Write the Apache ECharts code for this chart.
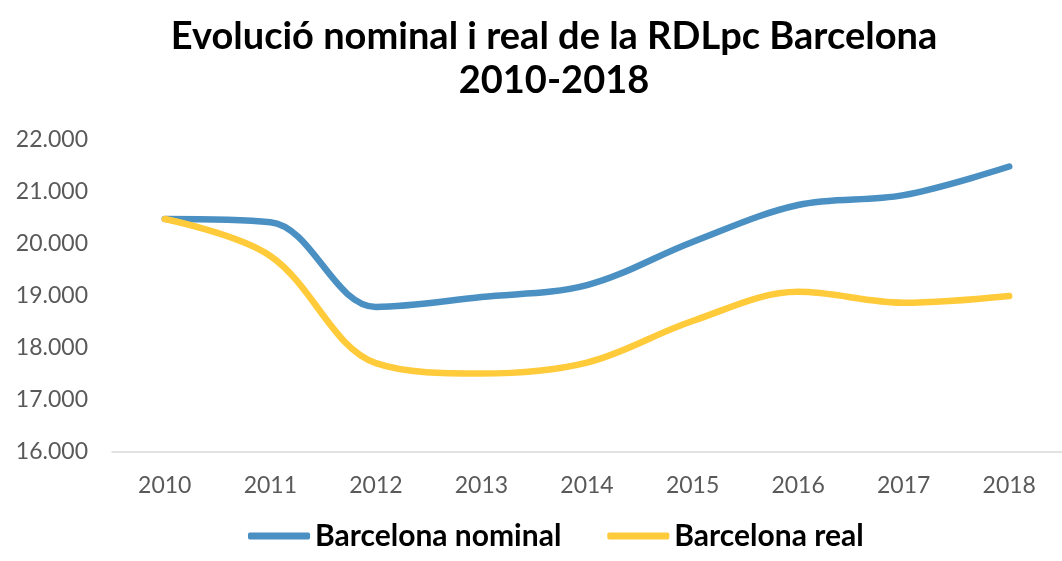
<!DOCTYPE html>
<html>
<head>
<meta charset="utf-8">
<script src="https://cdn.jsdelivr.net/npm/echarts@6/dist/echarts.min.js"></script>
<style>
html,body{margin:0;padding:0;background:#fff;}
#chartmain{width:1062px;height:561px;}
</style>
</head>
<body>
<div id="chartmain"></div>
<script>
var years=['2010','2011','2012','2013','2014','2015','2016','2017','2018'];
var nominal=[20480,20420,18790,18980,19210,20040,20750,20940,21490];
var real=[20480,19770,17710,17510,17720,18520,19080,18870,19000];

function formatThousands(value) {
	return String(value).replace(/\B(?=(\d{3})+(?!\d))/g,'.');
}

var myChart=echarts.init(document.getElementById("chartmain"));
var option={
	animation:false,
	title:{
		text:'Evolució nominal i real de la RDLpc Barcelona\n2010-2018',
		left:549,top:10,textAlign:'center',
		textStyle:{
			fontFamily:'Lato',
			fontWeight:'bold',fontSize:38,lineHeight:44,color:'#000'
		}
	},
	legend:{
		bottom:5,left:243,
		itemWidth:62,itemHeight:7,itemGap:46,
		icon:'roundRect',
		textStyle:{fontFamily:'Lato',fontWeight:'bold',fontSize:30,color:'#000'},
		data:['Barcelona nominal','Barcelona real']
	},
	grid:{left:112,right:-11,top:140,bottom:109},
	xAxis:{
		type:'category',
		boundaryGap:true,
		data:years,
		axisLine:{lineStyle:{color:'#d9d9d9',width:1.5}},
		axisTick:{show:false},
		axisLabel:{color:'#595959',fontSize:23,fontFamily:'Lato',margin:22}
	},
	yAxis:{
		type:'value',
		min:16000,max:22000,interval:1000,
		splitLine:{show:false},
		axisLine:{show:false},
		axisTick:{show:false},
		axisLabel:{
			color:'#595959',fontSize:23,fontFamily:'Lato',margin:24,
			formatter:function(value){return formatThousands(value);}
		}
	},
	series:[{
		name:'Barcelona nominal',
		type:'line',
		smooth:0.35,
		symbol:'none',
		lineStyle:{color:'#4a90c3',width:6.5,cap:'round'},
		itemStyle:{color:'#4a90c3'},
		data:nominal
	},{
		name:'Barcelona real',
		type:'line',
		smooth:0.35,
		symbol:'none',
		lineStyle:{color:'#ffcb3a',width:6.5,cap:'round'},
		itemStyle:{color:'#ffcb3a'},
		data:real
	}]
};
myChart.setOption(option);
</script>
</body>
</html>
